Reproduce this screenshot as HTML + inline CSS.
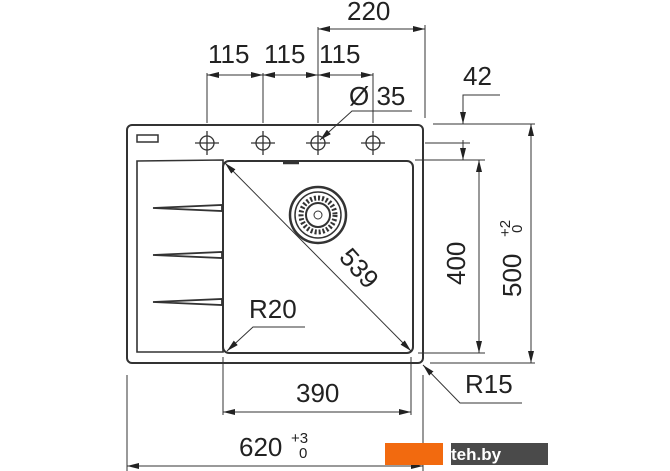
<!DOCTYPE html>
<html><head><meta charset="utf-8"><style>
html,body{margin:0;padding:0;background:#fff;width:670px;height:471px;overflow:hidden}
svg{display:block}
text{font-family:"Liberation Sans",Arial,sans-serif;fill:#222}
</style></head><body>
<svg width="670" height="471" viewBox="0 0 670 471" xmlns="http://www.w3.org/2000/svg">
<defs>
<marker id="a" viewBox="0 0 12 6" refX="12" refY="3" markerWidth="12" markerHeight="6" orient="auto-start-reverse" markerUnits="userSpaceOnUse"><path d="M0,0 L12,3 L0,6 z" fill="#222"/></marker>
</defs>
<g stroke="#333" fill="none" stroke-width="1">
<rect x="127" y="125" width="296" height="238" rx="5" stroke-width="2"/>
<path d="M137,161 L223,160 L223,352 L137,352 Z" stroke-width="1.6"/>
<rect x="223" y="161" width="190" height="192" rx="6" stroke-width="2"/>
<rect x="137" y="135" width="21" height="7" stroke-width="1.5"/>
<path d="M283,163 L299,163" stroke-width="2.5"/>
<path d="M153,208 L222,205 L222,211 Z" fill="#fff" stroke-width="1.8"/>
<path d="M153,255 L222,252 L222,258 Z" fill="#fff" stroke-width="1.8"/>
<path d="M153,302 L222,299 L222,305 Z" fill="#fff" stroke-width="1.8"/>
<circle cx="318" cy="215" r="28" stroke-width="2.5"/>
<circle cx="318" cy="215" r="23" stroke-width="1.5"/>
<circle cx="318" cy="215" r="17" stroke-width="5" stroke-dasharray="2 2"/>
<circle cx="318" cy="215" r="12" stroke-width="2"/>
<circle cx="318" cy="215" r="4"/>
<g stroke-width="1.3">
<circle cx="207" cy="143" r="7"/><path d="M195,143h24M207,131v24"/>
<circle cx="263" cy="143" r="7"/><path d="M251,143h24M263,131v24"/>
<circle cx="318" cy="143" r="7"/><path d="M306,143h24M318,131v24"/>
<circle cx="373" cy="143" r="7"/><path d="M361,143h24M373,131v24"/>
</g>
<path d="M207,73v50M263,73v50M318,27v96M373,73v50M425,25v93"/>
<path d="M207,75H263" marker-start="url(#a)" marker-end="url(#a)"/>
<path d="M263,75H318" marker-start="url(#a)" marker-end="url(#a)"/>
<path d="M318,75H373" marker-start="url(#a)" marker-end="url(#a)"/>
<path d="M318,29H425" marker-start="url(#a)" marker-end="url(#a)"/>
<path d="M412,111H352L320,140" marker-end="url(#a)"/>
<path d="M433,124H535M425,143H470M415,160H485M418,353H485M430,363H535"/>
<path d="M500,95H463V124" marker-end="url(#a)"/>
<path d="M463,160V140" marker-start="url(#a)"/>
<path d="M479,160V353" marker-start="url(#a)" marker-end="url(#a)"/>
<path d="M531,124V363" marker-start="url(#a)" marker-end="url(#a)"/>
<path d="M522,403H460L423,365" marker-end="url(#a)"/>
<path d="M225,163L411,351" marker-start="url(#a)" marker-end="url(#a)"/>
<path d="M305,327H253L227,351" marker-end="url(#a)"/>
<path d="M223,357v58M411,357v58M127,375v96M423,375v96"/>
<path d="M223,412H411" marker-start="url(#a)" marker-end="url(#a)"/>
<path d="M127,466H423" marker-start="url(#a)" marker-end="url(#a)"/>
</g>
<g font-size="26">
<text x="347" y="20">220</text>
<text x="208" y="63">115</text>
<text x="264" y="63">115</text>
<text x="319" y="63">115</text>
<text x="349" y="105">Ø 35</text>
<text x="463" y="85">42</text>
<text x="465" y="393">R15</text>
<text x="249" y="318">R20</text>
<text x="296" y="402">390</text>
<text x="239" y="456">620</text>
<text transform="translate(338,258) rotate(48)">539</text>
<text transform="translate(465,285) rotate(-90)">400</text>
<text transform="translate(521,297) rotate(-90)">500</text>
</g>
<g font-size="15">
<text x="291" y="443">+3</text>
<text x="299" y="458">0</text>
<text transform="translate(510,237) rotate(-90)">+2</text>
<text transform="translate(522,233) rotate(-90)">0</text>
</g>
<rect x="385" y="443" width="62" height="22" fill="#f26a0f"/>
<rect x="447" y="443" width="101" height="22" fill="#4a4a4a"/>
<path d="M443,443 L451,443 L451,465 L443,465 Z" fill="#fff"/>
<text x="451" y="460" font-size="17" font-weight="bold" style="fill:#fff">teh.by</text>
</svg>
</body></html>
